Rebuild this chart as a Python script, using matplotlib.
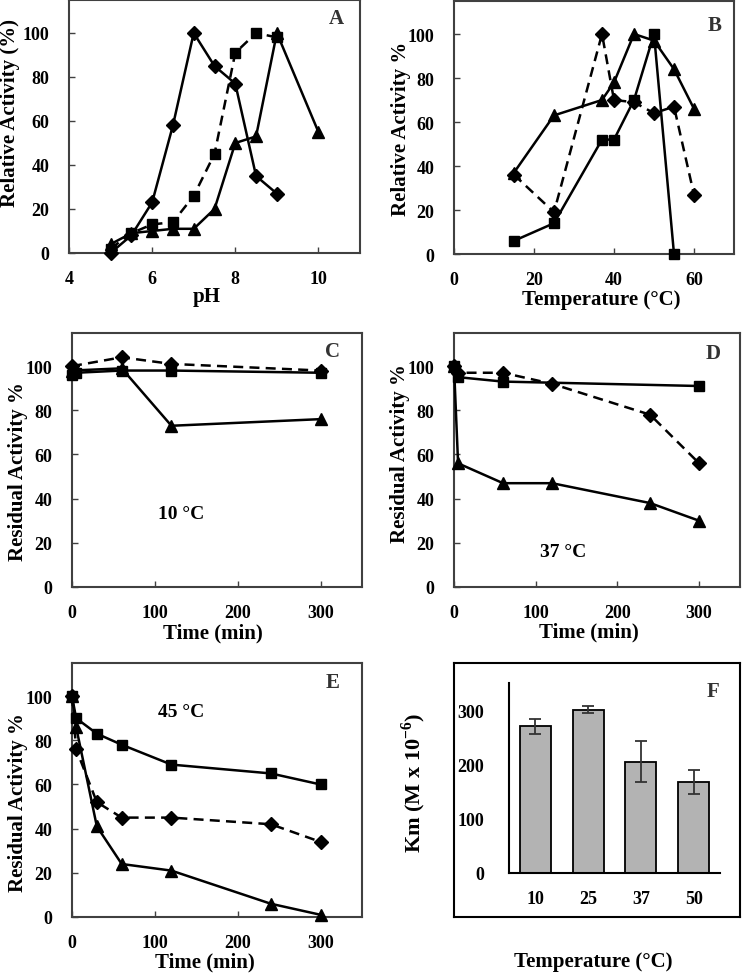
import matplotlib
matplotlib.use("Agg")
import matplotlib.pyplot as plt

plt.rcParams['font.family'] = ['Liberation Serif', 'DejaVu Serif']
plt.rcParams['font.weight'] = 'bold'
plt.rcParams['mathtext.fontset'] = 'custom'
plt.rcParams['mathtext.rm'] = 'Liberation Serif:bold'
plt.rcParams['mathtext.bf'] = 'Liberation Serif:bold'

# ---- data ----
# A: pH profile
ph_dia = [5, 5.5, 6, 6.5, 7, 7.5, 8, 8.5, 9]
act_dia_A = [0, 8, 23, 58, 100, 85, 77, 35, 27]
ph_sq = [5, 5.5, 6, 6.5, 7, 7.5, 8, 8.5, 9]
act_sq_A = [2, 9, 13, 14, 26, 45, 91, 100, 98]
ph_tri = [5, 5.5, 6, 6.5, 7, 7.5, 8, 8.5, 9, 10]
act_tri_A = [4, 9, 10, 11, 11, 20, 50, 53, 100, 55]

# B: temperature profile
t_sq_B = [15, 25, 37, 40, 45, 50, 55]
act_sq_B = [6, 14, 52, 52, 70, 100, 0]
t_dia_B = [15, 25, 37, 40, 45, 50, 55, 60]
act_dia_B = [36, 19, 100, 70, 69, 64, 67, 27]
t_tri_B = [15, 25, 37, 40, 45, 50, 55, 60]
act_tri_B = [37, 63, 70, 78, 100, 97, 84, 66]

# C: stability at 10 C
t_dia_C = [0, 60, 120, 300]
res_dia_C = [100, 104, 101, 98]
t_sq_C = [0, 5, 60, 120, 300]
res_sq_C = [96, 97, 98, 98, 97]
t_tri_C = [0, 60, 120, 300]
res_tri_C = [98, 99, 73, 76]

# D: stability at 37 C
t_sq_D = [0, 5, 60, 300]
res_sq_D = [100, 95, 93, 91]
t_dia_D = [0, 5, 60, 120, 240, 300]
res_dia_D = [100, 97, 97, 92, 78, 56]
t_tri_D = [0, 5, 60, 120, 240, 300]
res_tri_D = [100, 56, 47, 47, 38, 30]

# E: stability at 45 C
t_E = [0, 5, 30, 60, 120, 240, 300]
res_sq_E = [100, 90, 83, 78, 69, 65, 60]
res_dia_E = [100, 76, 52, 45, 45, 42, 34]
res_tri_E = [100, 86, 41, 24, 21, 6, 1]

# F: Km vs temperature
temps_F = ['10', '25', '37', '50']
km_F = [270, 301, 205, 167]
km_err_F = [14, 7, 38, 22]

W, H = 742, 978
fig = plt.figure(figsize=(W / 100, H / 100), dpi=100)


def box(x0, y0, x1, y1):
    return [x0 / W, 1 - y1 / H, (x1 - x0) / W, (y1 - y0) / H]


dash = (0, (4, 2.5))
lw = 1.8
TICK = 13


def line(ax, x, y, m, ms, ls='-'):
    ax.plot(x, y, color='black', lw=lw, ls=ls, marker=m, ms=ms,
            mfc='black', mec='black', clip_on=False, zorder=3)


def style(ax, xlim, xticks, ylim, xlabel, ylabel, letter, lab_y, lab_x, xl_x, xl_y):
    ax.set_xlim(*xlim)
    ax.set_ylim(*ylim)
    ax.set_xticks(xticks)
    ax.set_yticks([0, 20, 40, 60, 80, 100])
    ax.tick_params(direction='in', length=4, width=1, labelsize=TICK,
                   color='#404040')
    ax.tick_params(axis='y', pad=14)
    ax.tick_params(axis='x', pad=12)
    for s in ax.spines.values():
        s.set_color('#404040')
        s.set_linewidth(1.5)
    ax.set_xlabel(xlabel, fontsize=15, fontweight='bold')
    ax.set_ylabel(ylabel, fontsize=15, fontweight='bold')
    ax.xaxis.set_label_coords(xl_x, xl_y)
    ax.yaxis.set_label_coords(lab_x, lab_y)
    ax.text(0.92, 0.93, letter, transform=ax.transAxes, fontsize=15,
            fontweight='bold', ha='center', va='center', color='#333333')


# A
axA = fig.add_axes(box(69, 1, 360, 254))
line(axA, ph_dia, act_dia_A, 'D', 7)
line(axA, ph_sq, act_sq_A, 's', 6.5, dash)
line(axA, ph_tri, act_tri_A, '^', 8)
style(axA, (4, 11), [4, 6, 8, 10], (0, 115), 'pH', 'Relative Activity (%)',
      'A', 0.557, -0.17, 0.474, -0.13)

# B
axB = fig.add_axes(box(454, 2, 734, 255))
line(axB, t_sq_B, act_sq_B, 's', 6.5)
line(axB, t_dia_B, act_dia_B, 'D', 7, dash)
line(axB, t_tri_B, act_tri_B, '^', 8)
style(axB, (0, 70), [0, 20, 40, 60], (0, 115), 'Temperature (°C)',
      'Relative Activity %', 'B', 0.498, -0.155, 0.525, -0.138)
axB.texts[0].set_position((0.93, 0.905))

# C
axC = fig.add_axes(box(72, 334, 362, 588))
line(axC, t_dia_C, res_dia_C, 'D', 7, dash)
line(axC, t_sq_C, res_sq_C, 's', 6.5)
line(axC, t_tri_C, res_tri_C, '^', 8)
style(axC, (0, 350), [0, 100, 200, 300], (0, 115), 'Time (min)',
      'Residual Activity %', 'C', 0.457, -0.15, 0.486, -0.138)
axC.texts[0].set_position((0.90, 0.93))
axC.text(0.375, 0.29, '10 °C', transform=axC.transAxes, fontsize=14,
         fontweight='bold', ha='center', va='center')

# D
axD = fig.add_axes(box(454, 334, 740, 588))
line(axD, t_sq_D, res_sq_D, 's', 6.5)
line(axD, t_dia_D, res_dia_D, 'D', 7, dash)
line(axD, t_tri_D, res_tri_D, '^', 8)
style(axD, (0, 350), [0, 100, 200, 300], (0, 115), 'Time (min)',
      'Residual Activity %', 'D', 0.53, -0.155, 0.472, -0.134)
axD.texts[0].set_position((0.905, 0.92))
axD.text(0.38, 0.14, '37 °C', transform=axD.transAxes, fontsize=14,
         fontweight='bold', ha='center', va='center')

# E
axE = fig.add_axes(box(72, 664, 362, 918))
line(axE, t_E, res_sq_E, 's', 6.5)
line(axE, t_E, res_dia_E, 'D', 7, dash)
line(axE, t_E, res_tri_E, '^', 8)
style(axE, (0, 350), [0, 100, 200, 300], (0, 115), 'Time (min)',
      'Residual Activity %', 'E', 0.453, -0.15, 0.459, -0.134)
axE.texts[0].set_position((0.90, 0.925))
axE.text(0.375, 0.81, '45 °C', transform=axE.transAxes, fontsize=14,
         fontweight='bold', ha='center', va='center')

# F frame
axFo = fig.add_axes(box(454, 664, 740, 918))
axFo.set_xticks([])
axFo.set_yticks([])
for s in axFo.spines.values():
    s.set_linewidth(1.5)
    s.set_color('black')
axFo.text(0.905, 0.89, 'F', transform=axFo.transAxes, fontsize=15,
          fontweight='bold', ha='center', va='center', color='#333333')

axF = fig.add_axes(box(509, 684, 720, 874))
axF.patch.set_alpha(0)
xpos = range(len(temps_F))
axF.bar(xpos, km_F, width=0.59, color='#b3b3b3', edgecolor='black',
        linewidth=1.3, zorder=2)
axF.errorbar(xpos, km_F, yerr=km_err_F, fmt='none', ecolor='#333333',
             elinewidth=1.3, capsize=4, capthick=1.3, zorder=3)
axF.set_xlim(-0.5, 3.5)
axF.set_ylim(0, 350)
axF.set_yticks([0, 100, 200, 300])
axF.set_xticks(list(xpos))
axF.set_xticklabels(temps_F)
axF.tick_params(length=0, labelsize=TICK)
axF.tick_params(axis='y', pad=18)
axF.tick_params(axis='x', pad=12)
axF.spines['top'].set_visible(False)
axF.spines['right'].set_visible(False)
axF.spines['left'].set_linewidth(1.5)
axF.spines['bottom'].set_linewidth(1.5)

fig.text(414 / W, 1 - 783 / H, r'Km (M x 10$^{\mathbf{-6}}$)', rotation=90,
         fontsize=16, fontweight='bold', ha='center', va='center')
fig.text(593 / W, 1 - 962 / H, 'Temperature (°C)', fontsize=15,
         fontweight='bold', ha='center', va='center')

fig.savefig('out.png', dpi=100)
